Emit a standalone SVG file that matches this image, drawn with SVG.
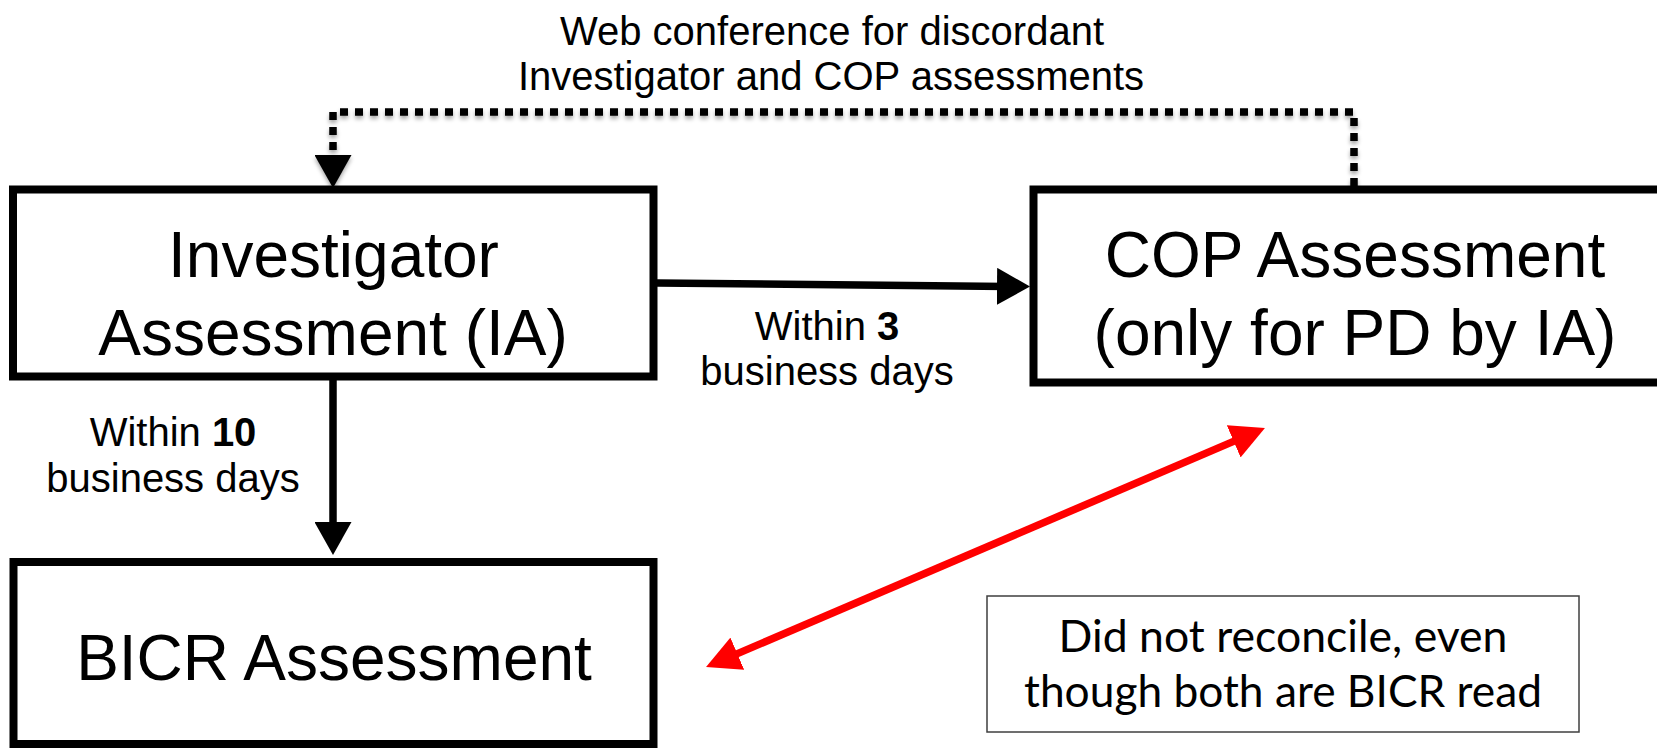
<svg xmlns="http://www.w3.org/2000/svg" width="1657" height="748" viewBox="0 0 1657 748">
<defs>
<style>
.box{fill:#fff;stroke:#000;stroke-width:8}
.main{font-family:"Liberation Sans",Arial,sans-serif;font-size:64px;fill:#000;text-anchor:middle}
.lbl{font-family:"Liberation Sans",Arial,sans-serif;font-size:40px;fill:#000;text-anchor:middle}
.note{font-family:Lato,"Open Sans",sans-serif;font-size:45px;fill:#000;text-anchor:middle}
.solid{fill:none;stroke:#000;stroke-width:7.5}
.dash{fill:none;stroke:#000;stroke-width:7.5;stroke-dasharray:8 7}
.red{fill:none;stroke:#ff0000;stroke-width:7.5}
</style>
<marker id="ab" markerUnits="userSpaceOnUse" markerWidth="34" markerHeight="37" refX="10" refY="18.5" orient="auto">
<path d="M0,0 L33,18.5 L0,37 z" fill="#000"/>
</marker>
<marker id="ar" markerUnits="userSpaceOnUse" markerWidth="35" markerHeight="35" refX="10" refY="17.5" orient="auto-start-reverse">
<path d="M0,0 L34,17.5 L0,35 z" fill="#ff0000"/>
</marker>
<filter id="sh" x="-5%" y="-20%" width="110%" height="150%">
<feDropShadow dx="0" dy="3" stdDeviation="2" flood-color="#000" flood-opacity="0.35"/>
</filter>
</defs>
<rect width="1657" height="748" fill="#fff"/>
<g id="connectors">
<path class="dash" filter="url(#sh)" d="M1354,186 L1354,112 L333,112 L333,165" marker-end="url(#ab)"/>
<line class="solid" x1="657" y1="283" x2="1007" y2="286.4" marker-end="url(#ab)"/>
<line class="solid" x1="333" y1="380" x2="333" y2="532" marker-end="url(#ab)"/>
<line class="red" x1="728.1" y1="657.6" x2="1242.9" y2="437.4" marker-start="url(#ar)" marker-end="url(#ar)"/>
</g>
<g id="label-web">
<text class="lbl" x="832" y="45">Web conference for discordant</text>
<text class="lbl" x="831" y="90">Investigator and COP assessments</text>
</g>
<g id="label-3">
<text class="lbl" x="827" y="340">Within <tspan font-weight="bold">3</tspan></text>
<text class="lbl" x="827" y="385">business days</text>
</g>
<g id="label-10">
<text class="lbl" x="173" y="446">Within <tspan font-weight="bold">10</tspan></text>
<text class="lbl" x="173" y="492">business days</text>
</g>
<g id="node-ia">
<rect class="box" x="13" y="189.5" width="640.5" height="187"/>
<text class="main" x="333.5" y="277">Investigator</text>
<text class="main" x="333" y="355">Assessment (IA)</text>
</g>
<g id="node-cop">
<rect class="box" x="1033.5" y="189.5" width="700" height="193"/>
<text class="main" x="1355" y="277">COP Assessment</text>
<text class="main" x="1355" y="355">(only for PD by IA)</text>
</g>
<g id="node-bicr">
<rect class="box" x="13.5" y="562" width="640" height="182"/>
<text class="main" x="334" y="680">BICR Assessment</text>
</g>
<g id="note">
<rect x="987" y="596" width="592" height="136" fill="#fff" stroke="#3f3f3f" stroke-width="1.5"/>
<text class="note" x="1283" y="652" textLength="449" lengthAdjust="spacingAndGlyphs">Did not reconcile, even</text>
<text class="note" x="1283" y="707" textLength="518" lengthAdjust="spacingAndGlyphs">though both are BICR read</text>
</g>
</svg>
